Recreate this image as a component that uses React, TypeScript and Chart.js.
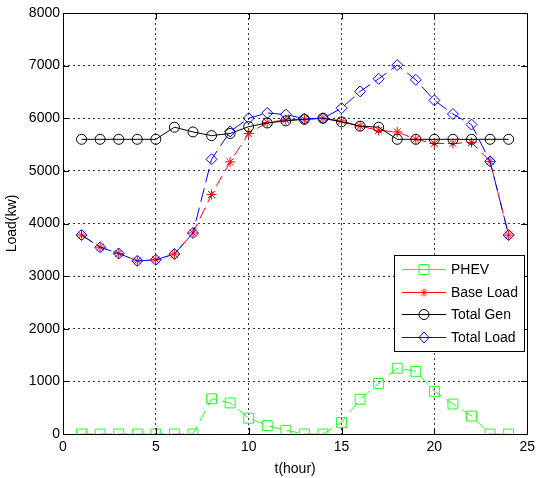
import React, { useEffect, useRef } from "react";
import { Chart, registerables } from "chart.js";

Chart.register(...registerables);

const hours = [1, 2, 3, 4, 5, 6, 7, 8, 9, 10, 11, 12, 13, 14, 15, 16, 17, 18, 19, 20, 21, 22, 23, 24];
const phev = [0, 0, 0, 0, 0, 0, 0, 670, 590, 300, 160, 70, 0, 0, 220, 660, 960, 1250, 1190, 810, 570, 340, 0, 0];
const baseLoad = [3780, 3550, 3430, 3290, 3310, 3420, 3820, 4550, 5170, 5710, 5920, 5970, 5980, 6000, 5950, 5850, 5770, 5740, 5600, 5520, 5520, 5540, 5180, 3780];
const totalGen = [5600, 5600, 5600, 5600, 5600, 5830, 5740, 5670, 5710, 5840, 5910, 5950, 5980, 6000, 5930, 5850, 5830, 5600, 5600, 5600, 5600, 5600, 5600, 5600];
const totalLoad = [3780, 3550, 3430, 3290, 3310, 3420, 3820, 5220, 5750, 6000, 6100, 6070, 5990, 6000, 6190, 6510, 6750, 7010, 6730, 6340, 6080, 5880, 5180, 3780];

const seriesNames = ["PHEV", "Base Load", "Total Gen", "Total Load"];
const xTicks = [0, 5, 10, 15, 20, 25];
const yTicks = [0, 1000, 2000, 3000, 4000, 5000, 6000, 7000, 8000];

const FONT = "'Liberation Sans', Arial, sans-serif";

function drawMarker(ctx: CanvasRenderingContext2D, style: string, x: number, y: number, color: string) {
  ctx.save();
  ctx.strokeStyle = color;
  ctx.fillStyle = color;
  ctx.lineWidth = 1;
  ctx.setLineDash([]);
  ctx.beginPath();
  if (style === "rect") {
    ctx.rect(x - 5, y - 5, 10, 10);
    ctx.stroke();
  } else if (style === "circle") {
    ctx.arc(x, y, 5, 0, Math.PI * 2);
    ctx.stroke();
  } else if (style === "rectRot") {
    ctx.moveTo(x, y - 5.5);
    ctx.lineTo(x + 5, y);
    ctx.lineTo(x, y + 5.5);
    ctx.lineTo(x - 5, y);
    ctx.closePath();
    ctx.stroke();
  } else if (style === "star") {
    ctx.moveTo(x - 4, y);
    ctx.lineTo(x + 4, y);
    ctx.moveTo(x, y - 4);
    ctx.lineTo(x, y + 4);
    ctx.moveTo(x - 3, y - 3);
    ctx.lineTo(x + 3, y + 3);
    ctx.moveTo(x - 3, y + 3);
    ctx.lineTo(x + 3, y - 3);
    ctx.stroke();
  }
  ctx.restore();
}

const framePlugin = {
  id: "frameTicks",
  afterDatasetsDraw(chart: any) {
    const { ctx, chartArea } = chart;
    const { left, right, top, bottom } = chartArea;
    const xs = chart.scales.x;
    const ys = chart.scales.y;
    ctx.save();
    ctx.strokeStyle = "#000";
    ctx.lineWidth = 1;
    ctx.setLineDash([]);
    ctx.beginPath();
    ctx.rect(Math.round(left) + 0.5, Math.round(top) + 0.5, Math.round(right - left), Math.round(bottom - top));
    ctx.stroke();
    const tl = 6;
    ctx.beginPath();
    xTicks.forEach((v) => {
      const px = Math.round(xs.getPixelForValue(v)) + 0.5;
      ctx.moveTo(px, bottom);
      ctx.lineTo(px, bottom - tl);
      ctx.moveTo(px, top);
      ctx.lineTo(px, top + tl);
    });
    yTicks.forEach((v) => {
      const py = Math.round(ys.getPixelForValue(v)) + 0.5;
      ctx.moveTo(left, py);
      ctx.lineTo(left + tl, py);
      ctx.moveTo(right, py);
      ctx.lineTo(right - tl, py);
    });
    ctx.stroke();
    ctx.restore();
  },
  afterDraw(chart: any) {
    const { ctx } = chart;
    const bx = 394.5, by = 255.5, bw = 130, bh = 96;
    ctx.save();
    ctx.fillStyle = "#fff";
    ctx.fillRect(bx, by, bw, bh);
    ctx.strokeStyle = "#000";
    ctx.lineWidth = 1;
    ctx.setLineDash([]);
    ctx.strokeRect(bx, by, bw, bh);
    chart.data.datasets.forEach((ds: any, i: number) => {
      const y = 269 + i * 22.7;
      ctx.beginPath();
      ctx.strokeStyle = ds.borderColor;
      ctx.lineWidth = 1;
      ctx.moveTo(402, Math.round(y) + 0.5);
      ctx.lineTo(446, Math.round(y) + 0.5);
      ctx.stroke();
      drawMarker(ctx, ds.pointStyle, 424, Math.round(y) + 0.5, ds.borderColor);
      ctx.fillStyle = "#000";
      ctx.font = `14px ${FONT}`;
      ctx.textBaseline = "middle";
      ctx.textAlign = "left";
      ctx.fillText(ds.label, 451, y + 1);
    });
    ctx.restore();
  },
};

export default function App() {
  const ref = useRef<HTMLCanvasElement | null>(null);
  useEffect(() => {
    if (!ref.current) return;
    const mk = (label: string, data: number[], color: string, style: string, dash: number[], radius: number, order: number) => ({
      label,
      data: hours.map((h, i) => ({ x: h, y: data[i] })),
      borderColor: color,
      backgroundColor: "transparent",
      pointBackgroundColor: "transparent",
      pointBorderColor: color,
      pointStyle: style,
      pointRadius: radius,
      pointBorderWidth: 1,
      borderWidth: 1,
      borderDash: dash,
      tension: 0,
      order,
    });
    const chart = new Chart(ref.current, {
      type: "line",
      data: {
        datasets: [
          mk(seriesNames[0], phev, "#22ff22", "rect", [12, 6], 7, 3),
          mk(seriesNames[1], baseLoad, "#ff0000", "star", [12, 6], 5, 2),
          mk(seriesNames[2], totalGen, "#000000", "circle", [], 5, 1),
          mk(seriesNames[3], totalLoad, "#0000ff", "rectRot", [14, 6], 5.5, 0),
        ] as any,
      },
      options: {
        animation: false,
        responsive: false,
        layout: { padding: { left: 0, top: 13, right: 7, bottom: 0 } },
        plugins: { legend: { display: false }, tooltip: { enabled: false }, title: { display: false } },
        scales: {
          x: {
            type: "linear",
            min: 0,
            max: 25,
            afterFit: (s: any) => { s.height = 44; },
            afterBuildTicks: (s: any) => { s.ticks = xTicks.map((v) => ({ value: v })); },
            ticks: { color: "#000", font: { family: FONT, size: 14 }, padding: 5, callback: (v: any) => String(v) },
            grid: { color: "#333", drawTicks: false } as any,
            border: { display: false, dash: [2, 3] },
            title: { display: true, text: "t(hour)", color: "#000", font: { family: FONT, size: 14 }, padding: { top: 0, bottom: 0 } },
          },
          y: {
            type: "linear",
            min: 0,
            max: 8000,
            afterFit: (s: any) => { s.width = 63; },
            afterBuildTicks: (s: any) => { s.ticks = yTicks.map((v) => ({ value: v })); },
            ticks: { color: "#000", font: { family: FONT, size: 14 }, padding: 3, callback: (v: any) => String(v) },
            grid: { color: "#333", drawTicks: false } as any,
            border: { display: false, dash: [2, 3] },
            title: { display: true, text: "Load(kw)", color: "#000", font: { family: FONT, size: 14 }, padding: { top: 4, bottom: 0 } },
          },
        },
      } as any,
      plugins: [framePlugin],
    });
    return () => chart.destroy();
  }, []);
  return (
    <div style={{ position: "absolute", left: 0, top: 0, width: 540, height: 478, background: "#fff" }}>
      <canvas ref={ref} width={540} height={478} style={{ display: "block" }} />
    </div>
  );
}
